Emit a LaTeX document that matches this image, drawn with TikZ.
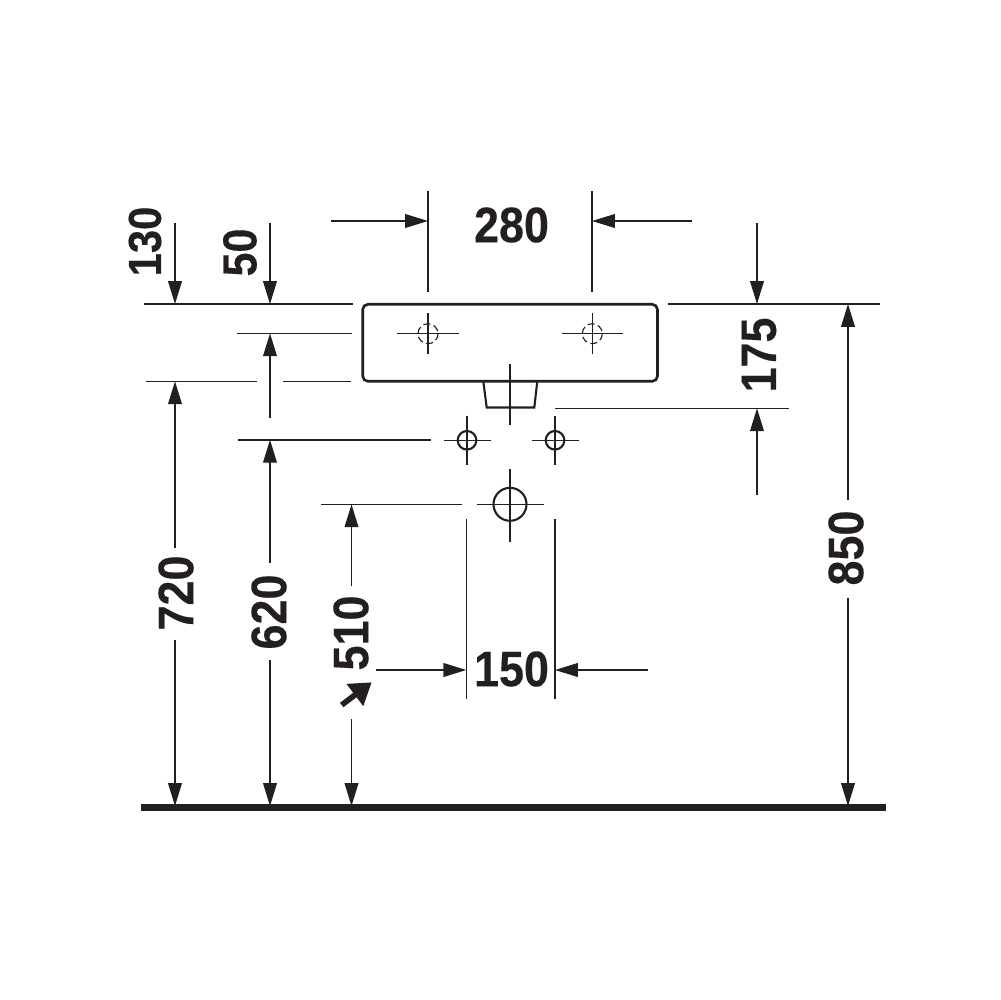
\documentclass[tikz,border=0pt]{standalone}
\usepackage{fontspec}
\setmainfont[FakeStretch=0.9,FakeBold=0.3]{Liberation Sans}
\usetikzlibrary{arrows.meta}
\definecolor{ink}{HTML}{231F20}
\tikzset{
  thin line/.style={draw=ink,line width=0.42pt},
  outline/.style={draw=ink,line width=0.75pt},
  dim/.style={thin line,-{Triangle[length=6.5pt,width=3.9pt]}},
  measure/.style={text=ink,font=\fontsize{14.2}{15}\selectfont\bfseries,inner sep=0pt},
  vmeasure/.style={measure,rotate=90}
}
\begin{document}
\begin{tikzpicture}[x=0.1mm,y=-0.1mm]
\useasboundingbox (0,0) rectangle (1000,1000);
\fill[white] (0,0) rectangle (1000,1000);

% basin
\draw[outline,rounded corners=1.5pt] (362.7,304.3) rectangle (657.5,381.3);
\draw[outline,line width=0.6pt] (483.3,381.3) -- (486.7,407.5) -- (534.3,407.5) -- (537.3,381.3);

% centre lines and holes
\foreach \cx in {428,592.3}{
  \draw[thin line] (\cx-30.7,333.7) -- (\cx+30.7,333.7);
  \draw[thin line] (\cx,313) -- (\cx,353.7);
  \draw[thin line,line width=0.32pt,dash pattern=on 2pt off 1pt] (\cx,333.7) circle (10);
}
\draw[thin line] (510,364) -- (510,425);
\foreach \cx in {467,555}{
  \draw[thin line] (\cx-23.5,440.3) -- (\cx+23.5,440.3);
  \draw[thin line] (\cx,415.7) -- (\cx,465.3);
  \draw[outline,line width=0.6pt] (\cx,440.3) circle (9.3);
}
\draw[thin line] (476.7,504.3) -- (543.7,504.3);
\draw[thin line] (510,469) -- (510,541.7);
\draw[outline,line width=0.6pt] (510,504.3) circle (16.5);

% extension lines
\draw[thin line] (144,304) -- (353,304);
\draw[thin line] (668,304) -- (880,304);
\draw[thin line] (236.7,333.3) -- (352,333.3);
\draw[thin line] (146,381.3) -- (257,381.3);
\draw[thin line] (283.3,381.3) -- (351,381.3);
\draw[thin line] (238,439.8) -- (430.7,439.8);
\draw[thin line] (321,504.3) -- (462,504.3);
\draw[thin line] (555,408.3) -- (789,408.3);
\draw[thin line] (428,191) -- (428,292);
\draw[thin line] (592,191) -- (592,292);
\draw[thin line] (466.3,519) -- (466.3,699);
\draw[thin line] (555,519) -- (555,699);

% floor
\draw[draw=ink,line width=2pt] (141,807.3) -- (886,807.3);

% named dimension ends
\coordinate (a280l) at (331,221);   \coordinate (b280l) at (428,221);
\coordinate (a280r) at (692,221);   \coordinate (b280r) at (592,221);
\coordinate (a130) at (175,222.7);  \coordinate (b130) at (175,304);
\coordinate (a50) at (270,222.7);   \coordinate (b50) at (270,304);
\coordinate (a50u) at (270,418);    \coordinate (b50u) at (270,333.3);
\coordinate (a175d) at (757,223);   \coordinate (b175d) at (757,304);
\coordinate (a175u) at (757,495);   \coordinate (b175u) at (757,408.3);
\coordinate (a720u) at (175,548);   \coordinate (b720u) at (175,381.3);
\coordinate (a720d) at (175,640);   \coordinate (b720d) at (175,806);
\coordinate (a620u) at (270,563);   \coordinate (b620u) at (270,439.8);
\coordinate (a620d) at (270,660);   \coordinate (b620d) at (270,806);
\coordinate (a510u) at (351.5,586); \coordinate (b510u) at (351.5,504.3);
\coordinate (a510d) at (351.5,719); \coordinate (b510d) at (351.5,806);
\coordinate (a850u) at (848,500);   \coordinate (b850u) at (848,304);
\coordinate (a850d) at (848,598);   \coordinate (b850d) at (848,806);
\coordinate (a150l) at (375.7,670); \coordinate (b150l) at (466.3,670);
\coordinate (a150r) at (648,670);   \coordinate (b150r) at (555,670);
\coordinate (awa) at (341.7,705);   \coordinate (awb) at (371.7,682.3);

\foreach \n in {280l,280r,130,50,50u,175d,175u,720u,720d,620u,620d,510u,510d,850u,850d,150l,150r}
  \draw[dim] (a\n) -- (b\n);
\draw[draw=ink,line width=1.6pt,-{Triangle[length=6pt,width=7.5pt]}] (awa) -- (awb);

% labels
\node[measure] (t280) at (511.5,225) {280};
\node[measure] (t150) at (511.5,669) {150};
\node[vmeasure,font=\fontsize{13.2}{14}\selectfont\bfseries] (t130) at (145,241.5) {130};
\node[vmeasure,font=\fontsize{13.6}{14}\selectfont\bfseries] (t50) at (240,252.5) {50};
\node[vmeasure] (t175) at (759,355) {175};
\node[vmeasure] (t720) at (176,593) {720};
\node[vmeasure] (t620) at (269,612) {620};
\node[vmeasure] (t510) at (351,633) {510};
\node[vmeasure] (t850) at (846,548) {850};
\end{tikzpicture}
\end{document}
